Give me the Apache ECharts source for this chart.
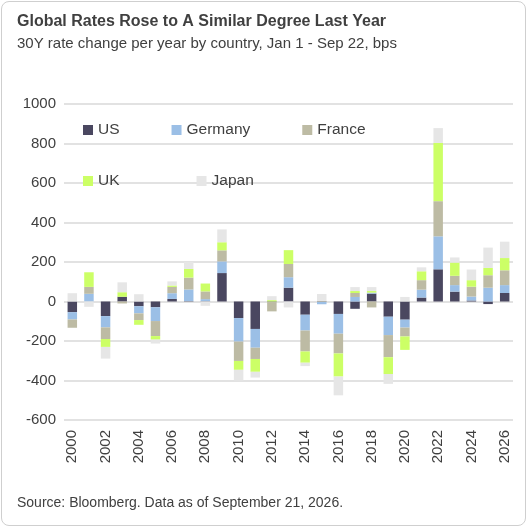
<!DOCTYPE html><html><head><meta charset="utf-8"><script src="https://cdn.jsdelivr.net/npm/echarts@6/dist/echarts.min.js"></script>
<style>html,body{margin:0;padding:0;background:#fff}#c{position:absolute;left:1px;top:1px;width:525px;height:525px;border:1px solid #cfcfcf;border-radius:8px;box-sizing:border-box}</style></head><body><div id="c"></div>
<script>
const years=[];for(let y=2000;y<=2026;y++)years.push(String(y));
const us=[-54,0,-74,24,-24,-29,13,2,2,144,-84,-139,-3,70,-67,-2,-63,-37,40,-77,-92,20,163,50,5,-13,43];
const germany=[-37,39,-57,0,-36,-70,29,59,10,59,-119,-95,0,53,-80,-12,-100,23,5,-93,-40,40,167,33,20,70,40];
const france=[-42,35,-59,-10,-34,-76,32,60,39,56,-98,-57,-47,67,-106,3,-100,20,-30,-112,-45,48,178,47,50,63,75];
const uk=[0,74,-40,23,-24,-18,7,44,40,41,-45,-65,7,70,-57,0,-117,10,8,-85,-68,45,295,67,33,37,62];
const japan=[42,-27,-59,50,37,-20,21,35,-22,65,-54,-29,20,-30,-17,35,-95,20,20,-50,23,20,75,26,54,103,83];
const names=['US','Germany','France','UK','Japan'];
const colors=['#4a4760','#9bbfe6','#bdbba4','#ccff66','#e6e6e6'];
const vals=[us,germany,france,uk,japan];
const chart=echarts.init(document.getElementById('c'));
const ls={fontFamily:'Liberation Sans, Arial',fontSize:15.5,color:'#404040'};
chart.setOption({
 animation:false,
 title:[{text:'Global Rates Rose to A Similar Degree Last Year',left:10,top:7,textStyle:{fontFamily:'Liberation Sans, Arial',fontSize:16,fontWeight:'bold',color:'#404040'}},
  {text:'30Y rate change per year by country, Jan 1 - Sep 22, bps',left:10,top:29,textStyle:{fontFamily:'Liberation Sans, Arial',fontSize:15,fontWeight:'normal',color:'#404040'}},
  {text:'Source: Bloomberg. Data as of September 21, 2026.',left:10,top:489,textStyle:{fontFamily:'Liberation Sans, Arial',fontSize:14,fontWeight:'normal',color:'#404040'}}],
 legend:[{data:['US','Germany','France'],left:76,top:115,itemWidth:10,itemHeight:10,itemGap:52,textStyle:ls,icon:'rect'},
  {data:['UK','Japan'],left:76,top:166,itemWidth:10,itemHeight:10,itemGap:77,textStyle:ls,icon:'rect'}],
 grid:{left:62,right:12,top:102,bottom:105},
 xAxis:{type:'category',data:years,axisTick:{show:false},axisLine:{show:false},
  axisLabel:{rotate:90,interval:1,fontFamily:'Liberation Sans, Arial',fontSize:15,color:'#404040',margin:10}},
 yAxis:{type:'value',min:-600,max:1000,interval:200,axisLabel:{formatter:v=>String(v),fontFamily:'Liberation Sans, Arial',fontSize:15,color:'#404040'},
  splitLine:{lineStyle:{color:'#d9d9d9',width:1.5}}},
 series:names.map((n,i)=>({name:n,type:'bar',stack:'a',data:vals[i],barWidth:'57%',itemStyle:{color:colors[i]}}))
});
</script></body></html>
